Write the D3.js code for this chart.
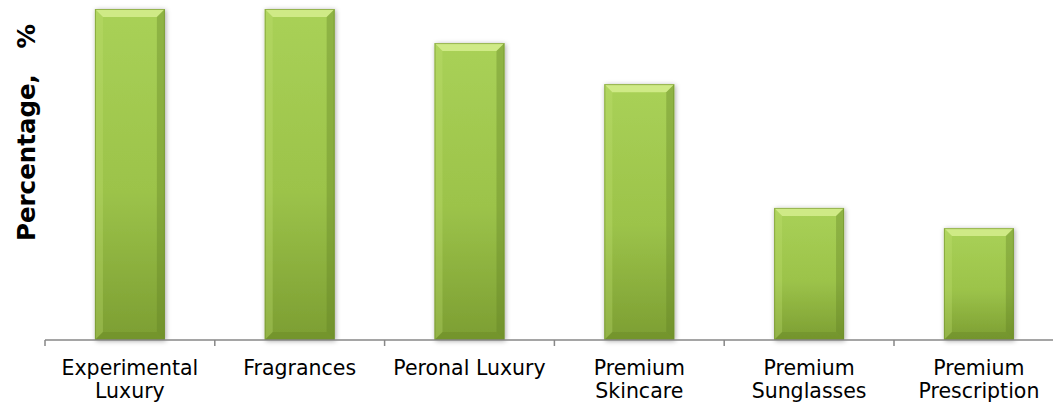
<!DOCTYPE html>
<html>
<head>
<meta charset="utf-8">
<script src="https://cdn.jsdelivr.net/npm/d3@7"></script>
<style>
  body { margin: 0; background: #fff; }
  text { font-family: "DejaVu Sans", Verdana, sans-serif; }
  .xlabel { font-size: 20.5px; fill: #000; }
  .ylabel { font-size: 24.5px; font-weight: bold; fill: #000; }
</style>
</head>
<body>
<div id="chart"></div>
<script>
// chart data
let categories = ["Experimental Luxury", "Fragrances", "Peronal Luxury", "Premium Skincare", "Premium Sunglasses", "Premium Prescription"];
let labelLines = [["Experimental", "Luxury"], ["Fragrances"], ["Peronal Luxury"], ["Premium", "Skincare"], ["Premium", "Sunglasses"], ["Premium", "Prescription"]];
let values = [100, 100, 89.7, 77.3, 39.9, 33.8];

let W = 1053, H = 405;
let axisY = 340, topY = 9, left = 45, step = 169.8;

let x = d3.scaleBand()
    .domain(categories)
    .range([left, left + step * categories.length])
    .paddingInner(0.588)
    .paddingOuter(0.294);

let y = d3.scaleLinear().domain([0, 100]).range([axisY, topY]);

let svg = d3.select("#chart").append("svg")
    .attr("width", W)
    .attr("height", H);

let defs = svg.append("defs");
let grad = defs.append("linearGradient").attr("id", "barGrad")
    .attr("x1", 0).attr("y1", 0).attr("x2", 0).attr("y2", 1);
grad.append("stop").attr("offset", "0%").attr("stop-color", "#a9d157");
grad.append("stop").attr("offset", "55%").attr("stop-color", "#9cc34a");
grad.append("stop").attr("offset", "100%").attr("stop-color", "#7c9e32");

let shadow = defs.append("filter").attr("id", "shadow")
    .attr("x", "-20%").attr("y", "-5%").attr("width", "140%").attr("height", "110%");
shadow.append("feDropShadow").attr("dx", 1).attr("dy", 1)
    .attr("stdDeviation", 2.5).attr("flood-color", "#000").attr("flood-opacity", 0.35);

// bars
let bw = x.bandwidth(), bev = 8;
let bars = svg.append("g").selectAll("g")
    .data(categories)
    .enter().append("g")
    .attr("transform", (d) => "translate(" + x(d) + ",0)");

bars.append("rect")
    .attr("x", 0)
    .attr("y", (d, i) => y(values[i]))
    .attr("width", bw)
    .attr("height", (d, i) => axisY - y(values[i]))
    .attr("fill", "url(#barGrad)")
    .attr("filter", "url(#shadow)");

// bevel: top light, left light, right dark, bottom dark
bars.append("path")
    .attr("fill", "#d6ef8e").attr("opacity", 0.85)
    .attr("d", (d, i) => {
        let t = y(values[i]);
        return "M0," + t + "L" + bw + "," + t + "L" + (bw - bev) + "," + (t + bev) + "L" + bev + "," + (t + bev) + "Z";
    });
bars.append("path")
    .attr("fill", "#c4e274").attr("opacity", 0.3)
    .attr("d", (d, i) => {
        let t = y(values[i]);
        return "M0," + t + "L" + bev + "," + (t + bev) + "L" + bev + "," + (axisY - bev) + "L0," + axisY + "Z";
    });
bars.append("path")
    .attr("fill", "#5f7d22").attr("opacity", 0.35)
    .attr("d", (d, i) => {
        let t = y(values[i]);
        return "M" + bw + "," + t + "L" + (bw - bev) + "," + (t + bev) + "L" + (bw - bev) + "," + (axisY - bev) + "L" + bw + "," + axisY + "Z";
    });
bars.append("path")
    .attr("fill", "#5f7d22").attr("opacity", 0.3)
    .attr("d", () => {
        return "M0," + axisY + "L" + bev + "," + (axisY - bev) + "L" + (bw - bev) + "," + (axisY - bev) + "L" + bw + "," + axisY + "Z";
    });
bars.append("rect")
    .attr("x", 0.5)
    .attr("y", (d, i) => y(values[i]) + 0.5)
    .attr("width", bw - 1)
    .attr("height", (d, i) => axisY - y(values[i]) - 1)
    .attr("fill", "none")
    .attr("stroke", "#6f8f2c")
    .attr("stroke-opacity", 0.6)
    .attr("stroke-width", 1);

// x axis
let xAxis = svg.append("g")
    .attr("class", "x axis")
    .attr("transform", "translate(0," + axisY + ")")
    .call(d3.axisBottom(x).tickSize(0).tickFormat(""));
xAxis.select(".domain").remove();
xAxis.append("line")
    .attr("x1", left).attr("x2", W)
    .attr("y1", 0).attr("y2", 0)
    .attr("stroke", "#878787").attr("stroke-width", 1.5);

// ticks between categories
xAxis.selectAll("line.sep")
    .data(d3.range(categories.length + 1))
    .enter().append("line")
    .attr("class", "sep")
    .attr("x1", (i) => left + i * x.step())
    .attr("x2", (i) => left + i * x.step())
    .attr("y1", 0).attr("y2", 6)
    .attr("stroke", "#878787").attr("stroke-width", 1.5);

// category labels
xAxis.selectAll("text.xlabel")
    .data(categories)
    .enter().append("text")
    .attr("class", "xlabel")
    .attr("text-anchor", "middle")
    .attr("x", (d) => x(d) + bw / 2)
    .attr("y", 35)
    .each(function (d, i) {
        let t = d3.select(this);
        labelLines[i].forEach(function (ln, j) {
            t.append("tspan")
                .attr("x", x(d) + bw / 2)
                .attr("dy", j === 0 ? 0 : 23)
                .text(ln);
        });
    });

// y label
svg.append("text")
    .attr("class", "ylabel")
    .attr("text-anchor", "middle")
    .attr("transform", "translate(35,132.5) rotate(-90)")
    .style("white-space", "pre")
    .text("Percentage,   %");
</script>
</body>
</html>
